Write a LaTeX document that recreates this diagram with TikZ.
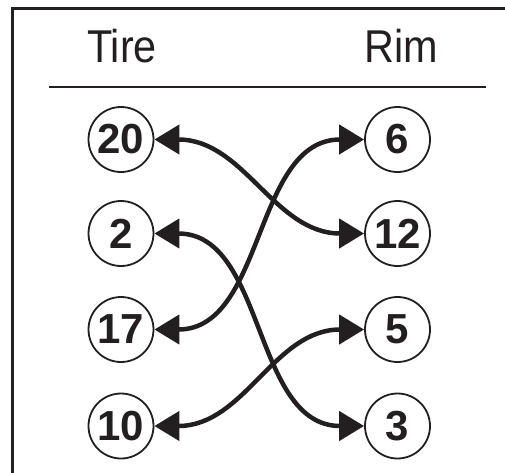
\documentclass[tikz,border=0pt]{standalone}
\usepackage{fontspec}
\setmainfont{Liberation Sans}
\usetikzlibrary{arrows.meta}
\definecolor{ink}{HTML}{231F20}
\begin{document}
\begin{tikzpicture}[x=1pt,y=-1pt,
  num/.style={circle,draw=ink,line width=1.8pt,minimum size=65pt,inner sep=0pt,
    font=\fontsize{42}{42}\selectfont\bfseries,text=ink},
  head/.style={font=\fontsize{46}{46}\selectfont,text=ink,anchor=base,inner sep=0pt},
  link/.style={draw=ink,line width=4.5pt,
    {Triangle[length=25pt 0 0,width=29pt 0 0]}-{Triangle[length=25pt 0 0,width=29pt 0 0]}}]
\useasboundingbox (0,0) rectangle (505,472);
\draw[ink,line width=2.6pt] (12.3,474) -- (12.3,8.3) -- (507,8.3);
\node[head] (tire) at (122,62) {\scalebox{0.9}[1]{Tire}};
\node[head] (rim) at (401,62) {\scalebox{0.9}[1]{Rim}};
\draw[ink,line width=2pt] (49,87) -- (486,87);
\node[num] (n20) at (121,139.5) {20};
\node[num] (n2)  at (121,233.5) {2};
\node[num] (n17) at (121,329.5) {17};
\node[num] (n10) at (121,426) {10};
\node[num] (n6)  at (397.5,139.5) {6};
\node[num] (n12) at (397.5,233.5) {12};
\node[num] (n5)  at (397.5,329.5) {5};
\node[num] (n3)  at (397.5,426) {3};
\draw[link] (n20.east) to[out=0,in=180] (n12.west);
\draw[link] (n2.east) to[out=0,in=180] (n3.west);
\draw[link] (n17.east) to[out=0,in=180] (n6.west);
\draw[link] (n10.east) to[out=0,in=180] (n5.west);
\end{tikzpicture}
\end{document}
